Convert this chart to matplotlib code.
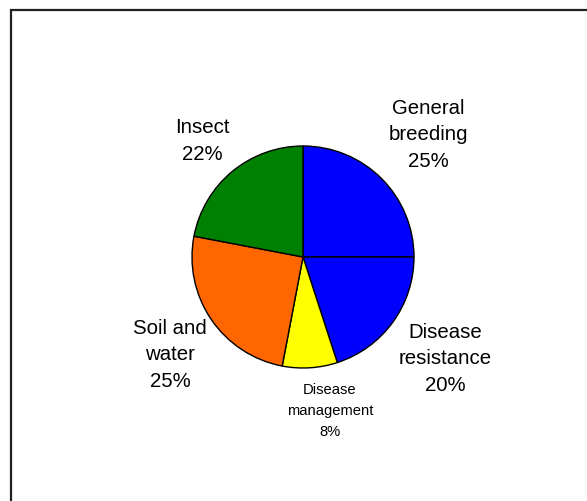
import matplotlib.pyplot as plt
from matplotlib.patches import Rectangle

# data
labels = ["General\nbreeding", "Disease\nresistance", "Disease\nmanagement", "Soil and\nwater", "Insect"]
values = [25, 20, 8, 25, 22]
colors = ["#0000FF", "#0000FF", "#FFFF00", "#FF6600", "#008000"]

W, H = 587, 502
fig = plt.figure(figsize=(W / 100, H / 100), dpi=100)
ax = fig.add_axes([0, 0, 1, 1])
ax.set_xlim(0, W)
ax.set_ylim(0, H)
ax.set_aspect("equal")
ax.axis("off")

# outer frame (right/bottom edges are cut off in the original)
ax.add_patch(Rectangle((11, -5), W, H - 11 + 5, fill=False, edgecolor="#222222", lw=1.6))

ax.pie(values, colors=colors, startangle=90, counterclock=False,
       center=(303, H - 258), radius=111,
       wedgeprops=dict(edgecolor="black", linewidth=1.0))
ax.set_xlim(0, W)
ax.set_ylim(0, H)

# label positions (pixel centres, from top)
label_pos = [(428, 135), (445, 359), (330, 411), (170, 355), (202, 141)]
sizes = [14.7, 14.7, 10.6, 14.7, 14.7]
spacing = [1.5, 1.5, 1.65, 1.5, 1.5]
for lab, v, (x, y), fs, ls in zip(labels, values, label_pos, sizes, spacing):
    ax.text(x, H - y, f"{lab}\n{v}%", ha="center", va="center", fontsize=fs,
            family="Liberation Sans", linespacing=ls)

fig.savefig("out.png", dpi=100)
